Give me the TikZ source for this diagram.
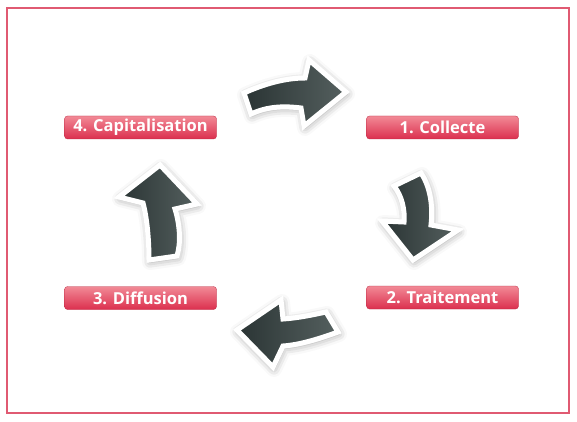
\documentclass[tikz,border=0pt]{standalone}
\usepackage{fontspec}
\setmainfont{Open Sans}
\usetikzlibrary{shadows.blur}
\definecolor{framecol}{HTML}{E05A72}
\definecolor{lbltop}{HTML}{F28A96}
\definecolor{lblbot}{HTML}{DB2F4E}
\definecolor{arrdark}{HTML}{2A3434}
\definecolor{arrlight}{HTML}{55605F}
\tikzset{
  labelbox/.style={rounded corners=3pt, top color=lbltop, bottom color=lblbot,
    minimum width=152pt, minimum height=23pt, text=white, inner sep=0pt,
    font=\fontsize{16.5}{16.5}\selectfont\bfseries, draw=lblbot!85!black, line width=0.3pt},
  cycarrow/.style={draw=white, line width=5pt, line join=miter,
    left color=arrdark, right color=arrlight,
    blur shadow={shadow xshift=1pt, shadow yshift=-2pt, shadow blur radius=8pt, shadow opacity=40}},
}
\begin{document}
\begin{tikzpicture}[x=1pt,y=-1pt]
\useasboundingbox (0,0) rectangle (577,422);
\draw[framecol, line width=2pt] (7,8) rectangle (569,413);

\node[labelbox] (cap) at (140.5,127.5) {4. Capitalisation};
\node[labelbox] (col) at (442.5,127.5) {1. Collecte};
\node[labelbox] (dif) at (140.5,298) {3. Diffusion};
\node[labelbox] (tra) at (442.5,297.5) {2. Traitement};

% top arrow (right)
\path[cycarrow] (244,93) .. controls (264,84) and (285,78) .. (305,78)
  -- (309,60) -- (346,92) -- (304,126) -- (301,108)
  .. controls (285,106) and (268,106) .. (251,114) -- cycle;
% right arrow (down)
\path[cycarrow] (394,186) .. controls (402,196) and (405,210) .. (404,222)
  -- (382,221) -- (413,260) -- (458,230) -- (431,225)
  .. controls (433,208) and (431,188) .. (421,173) -- cycle;
% bottom arrow (left)
\path[cycarrow] (237,330) -- (281,300) -- (283,319)
  .. controls (298,318) and (312,315) .. (326,312)
  -- (338,332) .. controls (316,340) and (298,345) .. (283,346)
  -- (273,367) -- cycle;
% left arrow (up)
\path[cycarrow] (160,165) -- (197,204) -- (175,209)
  .. controls (180,225) and (181,243) .. (177,256)
  -- (149,260) .. controls (149,240) and (147,218) .. (143,203)
  -- (119,197) -- cycle;
\end{tikzpicture}
\end{document}
